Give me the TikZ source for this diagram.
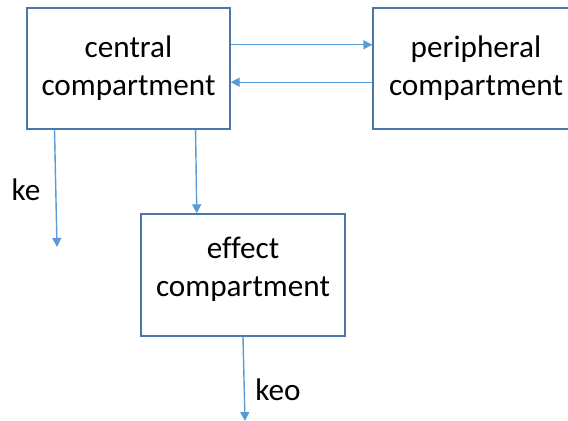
\documentclass[tikz,border=0pt]{standalone}
\usepackage{fontspec}
\setmainfont{Carlito}[Ligatures={NoCommon}]
\usetikzlibrary{arrows.meta,calc}
\definecolor{boxline}{HTML}{4A76A8}
\definecolor{arrline}{HTML}{5B9BD5}
\begin{document}
\begin{tikzpicture}[x=0.5pt,y=-0.5pt,
  comp/.style={draw=boxline,line width=0.7pt,fill=white,inner sep=0pt,
    minimum width=101.5pt,minimum height=60.5pt,align=center,
    font=\fontsize{15.6}{19}\selectfont},
  arr/.style={draw=arrline,line width=0.7pt,-{Triangle[length=4.5pt,width=4.5pt]}},
  lab/.style={font=\fontsize{15.6}{19}\selectfont,inner sep=0pt}]
\clip (0,0) rectangle (568,421);
\node[comp] (central) at (128.5,68.5) {central\\compartment};
\node[comp,minimum width=103pt] (peri) at (476,68.5) {peripheral\\compartment};
\node[comp,minimum width=102pt,minimum height=61pt] (effect) at (243,275) {effect\\compartment\rule[-8pt]{0pt}{0pt}};
\coordinate (keend) at (57,247);
\coordinate (keoend) at (245,421);
\draw[arr] ($(central.north east)!0.306!(central.south east)$) -- ($(peri.north west)!0.306!(peri.south west)$);
\draw[arr] ($(peri.north west)!0.612!(peri.south west)$) -- ($(central.north east)!0.612!(central.south east)$);
\draw[arr] ($(central.south west)!0.138!(central.south east)$) -- (keend);
\draw[arr] ($(central.south west)!0.828!(central.south east)$) -- ($(effect.north west)!0.275!(effect.north east)$);
\draw[arr] (effect.south) -- (keoend);
\node[lab] (ke) at (26,190) {ke};
\node[lab] (keo) at (278,390) {keo};
\end{tikzpicture}
\end{document}
